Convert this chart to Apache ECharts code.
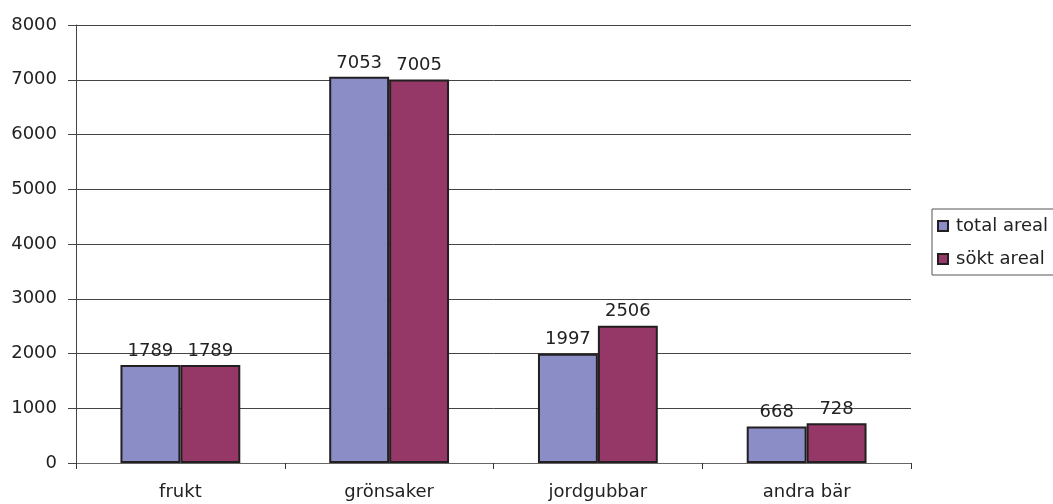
<!DOCTYPE html>
<html>
<head>
<meta charset="utf-8">
<script src="https://cdn.jsdelivr.net/npm/echarts@6/dist/echarts.min.js"></script>
<style>
  html, body { margin: 0; padding: 0; background: #fff; }
  #chart { width: 1053px; height: 504px; }
</style>
</head>
<body>
<div id="chart"></div>
<script>
// kategorier och värden
var categories = ['frukt', 'grönsaker', 'jordgubbar', 'andra bär'];
var totalAreal = [1789, 7053, 1997, 668];
var soktAreal = [1789, 7005, 2506, 728];
var seriesNames = ['total areal', 'sökt areal'];

var chart = echarts.init(document.getElementById('chart'));

var font = 'DejaVu Sans, Liberation Sans, sans-serif';
var labelStyle = {
    show: true,
    position: 'top',
    distance: 5,
    color: '#222',
    fontSize: 18,
    fontFamily: font
};

var option = {
    animation: false,
    grid: { left: 76, right: 142, top: 25, bottom: 41 },
    legend: {
        orient: 'vertical',
        left: 932,
        top: 209,
        padding: [8, 30, 7, 5],
        itemGap: 15,
        itemWidth: 10,
        itemHeight: 10,
        icon: 'rect',
        borderColor: '#555',
        borderWidth: 1,
        textStyle: { fontSize: 18, color: '#222', fontFamily: font, padding: [0, 0, 0, 3] },
        data: seriesNames
    },
    xAxis: {
        type: 'category',
        data: categories,
        axisLine: { lineStyle: { color: '#666', width: 1 } },
        axisTick: { show: true, length: 6, lineStyle: { color: '#333' } },
        axisLabel: { fontSize: 18, color: '#222', fontFamily: font, margin: 20 }
    },
    yAxis: {
        type: 'value',
        min: 0,
        max: 8000,
        interval: 1000,
        axisLine: { show: true, lineStyle: { color: '#444', width: 1 } },
        axisTick: { show: true, length: 8, lineStyle: { color: '#444' } },
        axisLabel: {
            fontSize: 18, color: '#222', fontFamily: font, margin: 19,
            formatter: function (v) { return String(v); }
        },
        splitLine: { lineStyle: { color: '#444', width: 1 } }
    },
    series: [
        {
            name: seriesNames[0],
            type: 'bar',
            data: totalAreal,
            barGap: '0%',
            barCategoryGap: '42.6%',
            itemStyle: { color: '#8B8EC6', borderColor: '#231f20', borderWidth: 2 },
            label: labelStyle
        },
        {
            name: seriesNames[1],
            type: 'bar',
            data: soktAreal,
            itemStyle: { color: '#953868', borderColor: '#231f20', borderWidth: 2 },
            label: labelStyle
        }
    ]
};

chart.setOption(option);
</script>
</body>
</html>
